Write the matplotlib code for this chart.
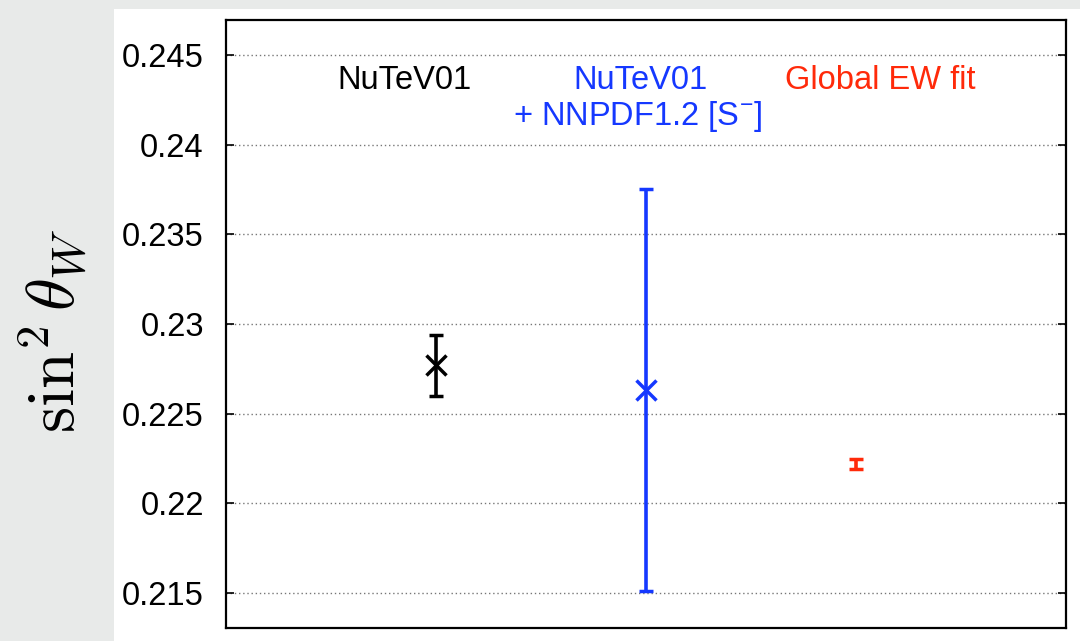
import numpy as np
import matplotlib
matplotlib.use('Agg')
import matplotlib.pyplot as plt
from matplotlib.patches import Rectangle

plt.rcParams['font.family'] = ['Liberation Sans', 'DejaVu Sans']
plt.rcParams['mathtext.fontset'] = 'custom'
plt.rcParams['mathtext.rm'] = 'Liberation Sans'
plt.rcParams['mathtext.it'] = 'Liberation Sans:italic'

# measurements of sin^2 theta_W
names = ['NuTeV01', 'NuTeV01', 'Global EW fit']
subnames = ['', '+ NNPDF1.2 [S$^{-}$]', '']
xpos = [1, 2, 3]
values = [0.2277, 0.2263, 0.2222]
errors = [0.0017, 0.0112, 0.0003]
colors = ['black', '#1538ff', '#ff2a0a']
markers = ['x', 'x', '']
yticks = [0.215, 0.22, 0.225, 0.23, 0.235, 0.24, 0.245]
ytick_labels = ['0.215', '0.22', '0.225', '0.23', '0.235', '0.24', '0.245']

W, H = 1080, 641
fig = plt.figure(figsize=(W / 100, H / 100), dpi=100)
fig.patch.set_facecolor('#e8eae9')
fig.patches.append(Rectangle((114 / W, 0), 1 - 114 / W, 1 - 9 / H,
                             transform=fig.transFigure, facecolor='white',
                             edgecolor='none', zorder=-5))

ax = fig.add_axes([226 / W, 1 - 628 / H, 840 / W, 608 / H])
ax.set_zorder(2)
ax.set_facecolor('white')

for x, v, e, c, m in zip(xpos, values, errors, colors, markers):
    ax.errorbar(x, v, yerr=e, color=c, marker=m, ms=15, mew=2.5,
                elinewidth=2.6, capsize=5, capthick=3, zorder=3)

ax.set_xlim(0, 4)
ax.set_ylim(0.21305, 0.24695)
ax.set_xticks([])
ax.set_yticks(yticks)
ax.set_yticklabels(ytick_labels)
ax.tick_params(axis='y', direction='in', length=6, width=1.2, labelsize=23.5,
               pad=16, right=True)
ax.yaxis.grid(True, color='#777777', linestyle=(0, (1, 2)), linewidth=1)
for sp in ax.spines.values():
    sp.set_linewidth(1.6)

# labels above the points
fs = 23.5
ax.text(0.852, 0.2436, names[0], color=colors[0], fontsize=fs, ha='center', va='center')
ax.text(1.976, 0.2436, names[1], color=colors[1], fontsize=fs, ha='center', va='center')
ax.text(1.96, 0.24155, subnames[1], color=colors[1], fontsize=fs, ha='center', va='center')
ax.text(3.114, 0.2436, names[2], color=colors[2], fontsize=fs, ha='center', va='center')

fig.text(53 / W, 1 - 331 / H, r'$\sin^2\theta_W$', rotation=90, fontsize=48,
         ha='center', va='center', math_fontfamily='cm')

fig.savefig('out.png', dpi=100, facecolor=fig.get_facecolor())
